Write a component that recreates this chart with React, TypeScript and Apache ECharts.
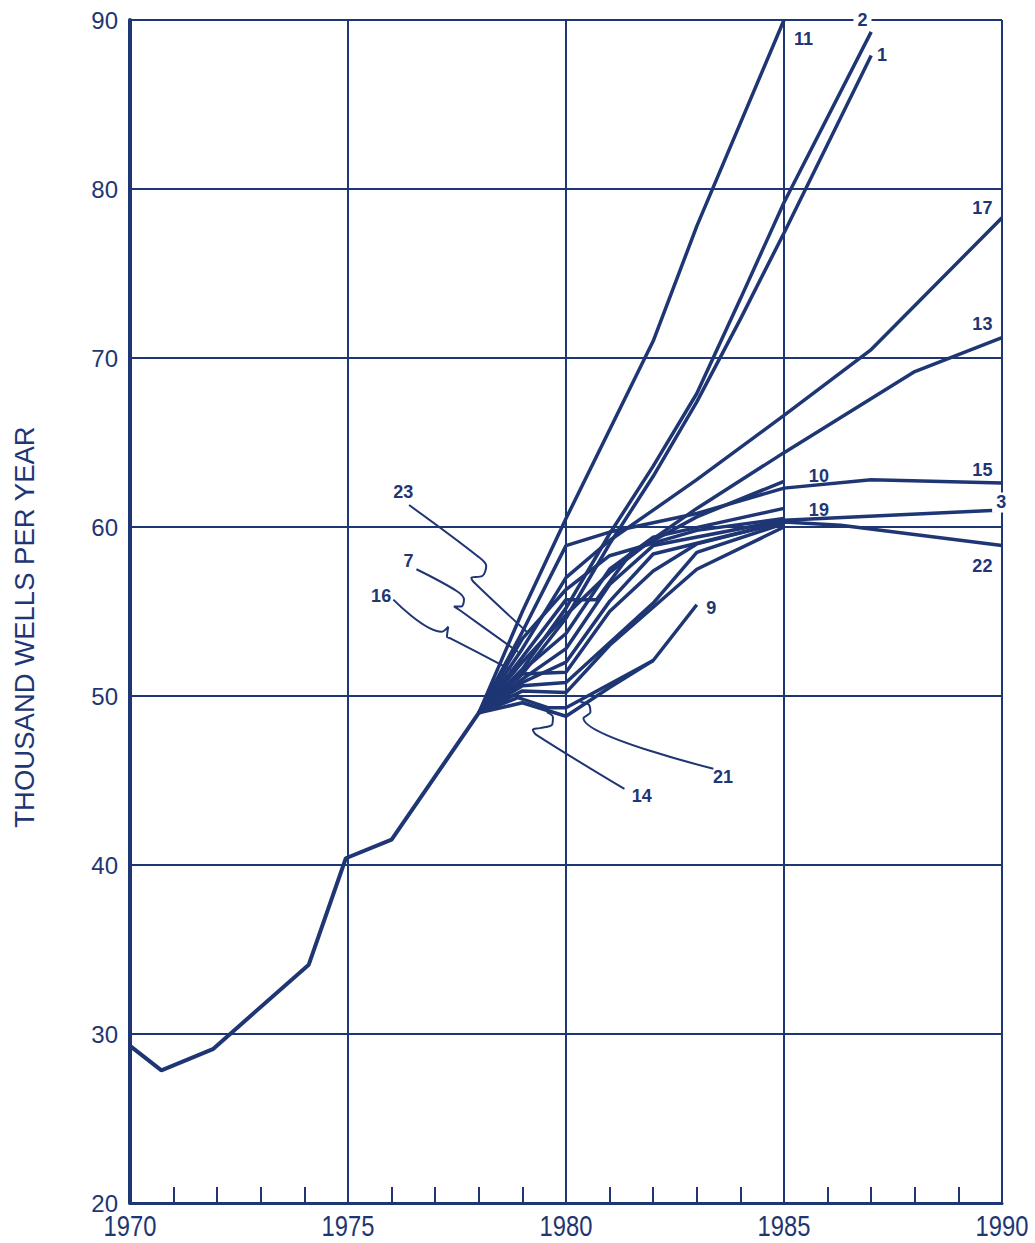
import React, { useEffect, useRef } from "react";
import * as echarts from "echarts";

const NAVY = "#1f3674";

// Year ticks / value ticks
const xTicks = [1970, 1975, 1980, 1985, 1990];
const yTicks = [20, 30, 40, 50, 60, 70, 80, 90];

// Historical drilling
const historical: [number, number][] = [
  [1970, 29.3], [1970.72, 27.85], [1971.9, 29.1], [1974.1, 34.1], [1974.95, 40.4], [1976, 41.5], [1978, 49.0],
];

// Projections (numbered curves)
const proj11: [number, number][] = [[1978, 49], [1979, 55], [1980, 60.5], [1982, 71], [1983, 77.8], [1985, 90]];
const proj2: [number, number][] = [[1978, 49], [1979, 51.6], [1980, 55.2], [1981, 59.6], [1982, 63.6], [1983, 67.9], [1984, 73.5], [1985, 79.2], [1987, 89.3]];
const proj1: [number, number][] = [[1978, 49], [1979, 51.3], [1980, 54.6], [1981, 59.0], [1982, 63.0], [1983, 67.4], [1984, 72.3], [1985, 77.4], [1987, 87.9]];
const proj17: [number, number][] = [[1978, 49], [1979, 52.8], [1980, 57.0], [1981, 59.2], [1982, 61.0], [1983, 62.8], [1985, 66.6], [1987, 70.5], [1990, 78.3]];
const proj13: [number, number][] = [[1978, 49], [1979, 52.0], [1980, 54.8], [1981, 57.3], [1982, 59.3], [1983, 61.1], [1985, 64.4], [1988, 69.2], [1990, 71.2]];
const proj15: [number, number][] = [[1978, 49], [1979, 53.8], [1980, 58.9], [1981, 59.7], [1983, 60.8], [1985, 62.3], [1987, 62.8], [1990, 62.6]];
const proj10: [number, number][] = [[1978, 49], [1979, 52.3], [1980, 55.7], [1980.7, 55.7], [1981.5, 58.5], [1983, 60.6], [1985, 62.7]];
const proj19: [number, number][] = [[1978, 49], [1979, 51.5], [1980, 53.7], [1981, 57.5], [1982, 59.4], [1985, 61.1]];
const proj3: [number, number][] = [[1978, 49], [1979, 51.0], [1980, 52.8], [1981, 56.6], [1982, 58.9], [1985, 60.4], [1990, 61.0]];
const proj22: [number, number][] = [[1978, 49], [1979, 50.8], [1980, 52.0], [1981, 55.6], [1982, 58.4], [1985, 60.3], [1986.3, 60.1], [1990, 58.9]];
const proj23: [number, number][] = [[1978, 49], [1979, 53.4], [1980, 56.3], [1981, 58.3], [1983, 59.8], [1985, 60.5]];
const proj7: [number, number][] = [[1978, 49], [1979, 51.3], [1980, 51.4], [1981, 55.0], [1982, 57.4], [1983, 59.0], [1985, 60.3]];
const proj16: [number, number][] = [[1978, 49], [1979, 50.6], [1980, 50.8], [1982, 55.5], [1983, 58.5], [1985, 60.2]];
const proj21: [number, number][] = [[1978, 49], [1979, 50.3], [1980, 50.2], [1981, 53.0], [1983, 57.5], [1985, 60.0]];
const proj9: [number, number][] = [[1978, 49], [1978.9, 49.9], [1979.6, 49.3], [1980, 49.3], [1982, 52.1], [1983, 55.4]];
const proj14: [number, number][] = [[1978, 49], [1979, 49.6], [1980, 48.8], [1981, 50.5], [1982, 52.1]];

const projections = [proj11, proj2, proj1, proj17, proj13, proj15, proj10, proj19, proj3, proj22, proj23, proj7, proj16, proj21, proj9, proj14];

// Curve numbers, anchored in data space
const curveLabels: [string, number, number][] = [
  ["11", 1985.45, 88.9], ["2", 1986.8, 90.0], ["1", 1987.25, 87.9], ["17", 1989.55, 78.9],
  ["13", 1989.55, 72.0], ["15", 1989.55, 63.4], ["3", 1989.98, 61.45], ["22", 1989.55, 57.7],
  ["10", 1985.8, 63.0], ["19", 1985.8, 61.0], ["9", 1983.33, 55.2], ["23", 1976.27, 62.1],
  ["7", 1976.39, 58.0], ["16", 1975.76, 55.9], ["21", 1983.6, 45.2], ["14", 1981.74, 44.1],
];
const maskedLabels = ["2", "3"];

// Leader lines from numbers to curves
const leader23: [number, number][] = [[1976.4, 61.3], [1977.96, 58.3], [1978.17, 57.7], [1978.08, 57.1], [1977.83, 57.0], [1977.9, 56.7], [1979.1, 53.8]];
const leader7: [number, number][] = [[1976.57, 57.5], [1977.5, 56.2], [1977.66, 55.7], [1977.6, 55.3], [1977.43, 55.3], [1977.55, 55.1], [1978.9, 52.6]];
const leader16: [number, number][] = [[1976.04, 55.7], [1977.15, 53.8], [1977.3, 54.1], [1977.27, 53.5], [1977.36, 53.4], [1978.84, 51.4]];
const leader14: [number, number][] = [[1981.34, 44.5], [1979.32, 47.7], [1979.24, 48.0], [1979.4, 48.1], [1979.68, 48.3], [1979.7, 48.75], [1979.56, 49.05]];
const leader21: [number, number][] = [[1983.38, 45.7], [1980.4, 48.7], [1980.56, 49.05], [1980.52, 49.5], [1980.33, 49.65]];
const leaders = [leader23, leader7, leader16, leader14, leader21];

const SANS = "Liberation Sans, Arial, Helvetica, sans-serif";

export default function App() {
  const ref = useRef<HTMLDivElement>(null);
  useEffect(() => {
    if (!ref.current) return;
    const chart = echarts.init(ref.current, null, { renderer: "svg" });
    const series: any[] = [];
    series.push({
      type: "line", data: historical, symbol: "none", lineStyle: { color: NAVY, width: 4 }, z: 5,
    });
    projections.forEach((d) =>
      series.push({ type: "line", data: d, symbol: "none", lineStyle: { color: NAVY, width: 3.5 }, z: 5 })
    );
    leaders.forEach((d) =>
      series.push({ type: "line", data: d, symbol: "none", smooth: 0.35, lineStyle: { color: NAVY, width: 2 }, z: 4 })
    );

    chart.setOption({
      animation: false,
      backgroundColor: "#ffffff",
      grid: { left: 130, top: 20, width: 872, height: 1183, containLabel: false },
      xAxis: {
        type: "value",
        min: xTicks[0],
        max: xTicks[xTicks.length - 1],
        interval: 5,
        axisLine: { show: true, onZero: false, lineStyle: { color: NAVY, width: 3 } },
        axisTick: { show: true, inside: true, length: 16, lineStyle: { color: NAVY, width: 2 } },
        minorTick: { show: true, splitNumber: 5, length: 16, lineStyle: { color: NAVY, width: 2 } },
        splitLine: { show: true, lineStyle: { color: NAVY, width: 2 } },
        axisLabel: { show: false },
      },
      yAxis: {
        type: "value",
        min: yTicks[0],
        max: yTicks[yTicks.length - 1],
        interval: 10,
        axisLine: { show: true, lineStyle: { color: NAVY, width: 4 } },
        axisTick: { show: false },
        splitLine: { show: true, lineStyle: { color: NAVY, width: 2 } },
        axisLabel: { color: NAVY, fontSize: 24, margin: 12, fontFamily: SANS },
      },
      series,
    });

    // Texts placed through the chart's own scales
    const yBottom = chart.convertToPixel({ yAxisIndex: 0 }, yTicks[0]) as number;
    const graphics: any[] = [];
    xTicks.forEach((t) => {
      const px = chart.convertToPixel({ xAxisIndex: 0 }, t) as number;
      graphics.push({
        type: "text",
        x: px,
        y: yBottom + 23,
        scaleX: 0.82,
        style: {
          text: String(t),
          fill: NAVY,
          fontSize: 29,
          fontFamily: SANS,
          textAlign: "center",
          textVerticalAlign: "middle",
        },
      });
    });
    curveLabels.forEach(([t, x, y]) => {
      const p = chart.convertToPixel({ gridIndex: 0 }, [x, y]) as number[];
      const masked = maskedLabels.includes(t);
      graphics.push({
        type: "text",
        x: p[0],
        y: p[1],
        z: 100,
        style: {
          text: t,
          fill: NAVY,
          fontSize: 18,
          fontWeight: "bold",
          fontFamily: SANS,
          textAlign: "center",
          textVerticalAlign: "middle",
          backgroundColor: masked ? "#ffffff" : undefined,
          padding: masked ? [1, 4] : 0,
        },
      });
    });
    graphics.push({
      type: "text",
      x: 24,
      y: 627,
      rotation: Math.PI / 2,
      style: {
        text: "THOUSAND WELLS PER YEAR",
        fill: NAVY,
        fontSize: 27.5,
        fontFamily: SANS,
        textAlign: "center",
        textVerticalAlign: "middle",
      },
    });
    chart.setOption({ graphic: graphics });

    return () => chart.dispose();
  }, []);
  return (
    <div
      ref={ref}
      style={{ position: "fixed", left: 0, top: 0, width: 1035, height: 1243, background: "#fff" }}
    />
  );
}
